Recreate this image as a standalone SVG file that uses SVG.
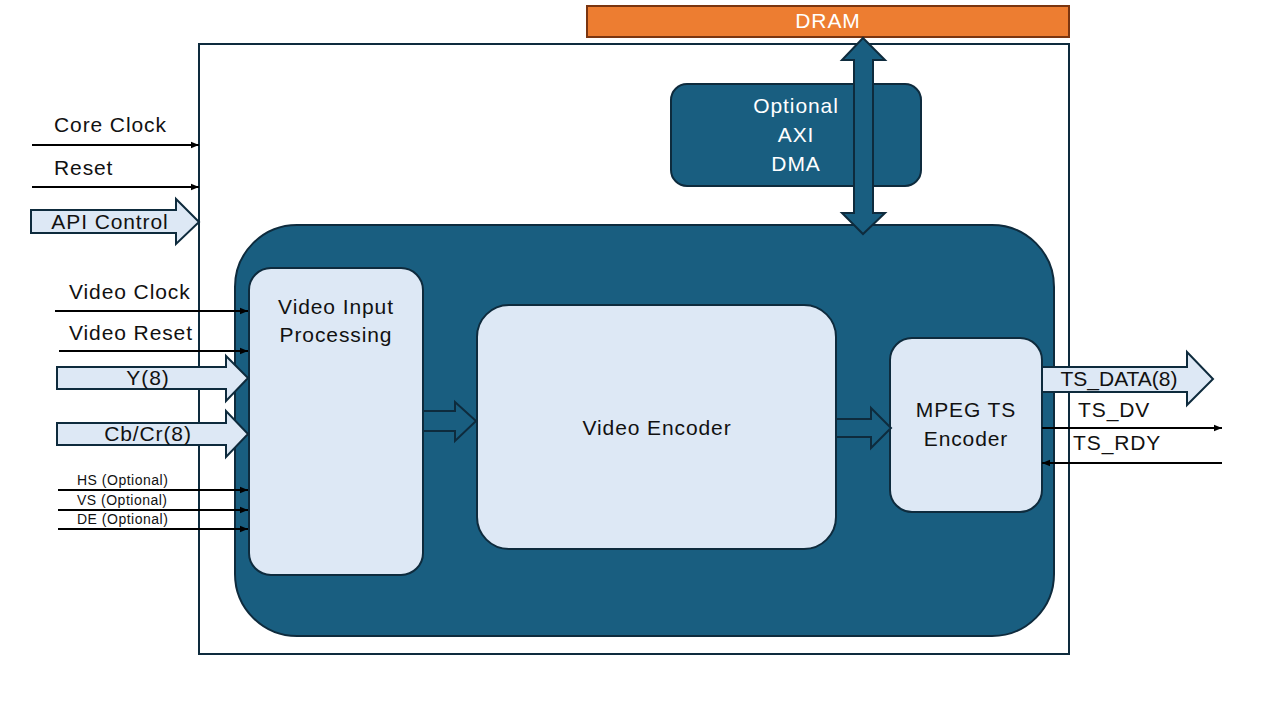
<svg xmlns="http://www.w3.org/2000/svg" width="1280" height="720" viewBox="0 0 1280 720">
<defs>
<marker id="ah" viewBox="0 0 10 10" refX="10" refY="5" markerWidth="8" markerHeight="8" markerUnits="userSpaceOnUse" orient="auto">
<path d="M0,1 L10,5 L0,9 Z" fill="#000"/>
</marker>
</defs>
<style>
text{font-family:"Liberation Sans",Arial,sans-serif;}
.t{font-size:21px;fill:#111;letter-spacing:0.9px;}
.s{font-size:14px;fill:#111;letter-spacing:0.5px;}
.w{font-size:21px;fill:#fff;letter-spacing:0.9px;}
.line{stroke:#000;stroke-width:2;fill:none;}
.blk{fill:#195e80;stroke:#0e2b3d;stroke-width:2;}
.lt{fill:#dde8f5;stroke:#0e2b3d;stroke-width:2;}
.arr{fill:#dde8f5;stroke:#0e2b3d;stroke-width:2;}
.darr{fill:#195e80;stroke:#0e2b3d;stroke-width:2;}
</style>
<rect width="1280" height="720" fill="#fff"/>
<g id="outer"><rect x="199" y="44" width="870" height="610" fill="#fff" stroke="#0e2b3d" stroke-width="2"/></g>
<g id="dram"><rect x="587" y="6" width="482" height="31" fill="#ed7d31" stroke="#7a3510" stroke-width="2"/><text class="w" x="828" y="28" text-anchor="middle">DRAM</text></g>
<g id="dma"><rect class="blk" x="671" y="84" width="250" height="102" rx="16"/>
<text class="w" x="796" y="113" text-anchor="middle">Optional</text>
<text class="w" x="796" y="142" text-anchor="middle">AXI</text>
<text class="w" x="796" y="171" text-anchor="middle">DMA</text></g>
<g id="core"><rect class="blk" x="235" y="225" width="819" height="411" rx="62"/></g>
<g id="vip"><rect class="lt" x="249" y="268" width="174" height="307" rx="22"/>
<text class="t" x="336" y="314" text-anchor="middle">Video Input</text>
<text class="t" x="336" y="342" text-anchor="middle">Processing</text></g>
<g id="venc"><rect class="lt" x="477" y="305" width="359" height="244" rx="32"/>
<text class="t" x="657" y="435" text-anchor="middle">Video Encoder</text></g>
<g id="mpeg"><rect class="lt" x="890" y="338" width="152" height="174" rx="22"/>
<text class="t" x="966" y="417" text-anchor="middle">MPEG TS</text>
<text class="t" x="966" y="446" text-anchor="middle">Encoder</text></g>
<g id="connectors">
<path class="darr" d="M863,38 L885,60 L873,60 L873,213 L885,213 L863,234 L842,213 L854,213 L854,60 L842,60 Z"/>
<path class="darr" d="M423,411 L455,411 L455,402 L476,421 L455,441 L455,431 L423,431 Z"/>
<path class="darr" d="M836,419 L871,419 L871,408 L891,428 L871,448 L871,437 L836,437 Z"/>
<line class="line" x1="32" y1="145" x2="199" y2="145" marker-end="url(#ah)"/>
<line class="line" x1="32" y1="187" x2="199" y2="187" marker-end="url(#ah)"/>
<path class="arr" d="M31,210 L176,210 L176,199 L199,222 L176,244 L176,233 L31,233 Z"/>
<line class="line" x1="55" y1="311" x2="248" y2="311" marker-end="url(#ah)"/>
<line class="line" x1="59" y1="351" x2="248" y2="351" marker-end="url(#ah)"/>
<path class="arr" d="M57,367 L226,367 L226,356 L248,378 L226,401 L226,389 L57,389 Z"/>
<path class="arr" d="M57,423 L226,423 L226,411 L248,434 L226,457 L226,445 L57,445 Z"/>
<line class="line" x1="58" y1="490" x2="248" y2="490" marker-end="url(#ah)"/>
<line class="line" x1="58" y1="510" x2="248" y2="510" marker-end="url(#ah)"/>
<line class="line" x1="58" y1="529" x2="248" y2="529" marker-end="url(#ah)"/>
<path class="arr" d="M1042,367 L1187,367 L1187,352 L1213,379 L1187,405 L1187,392 L1042,392 Z"/>
<line class="line" x1="1042" y1="428" x2="1222" y2="428" marker-end="url(#ah)"/>
<line class="line" x1="1222" y1="463" x2="1042" y2="463" marker-end="url(#ah)"/>
</g>
<g id="labels">
<text class="t" x="54" y="132">Core Clock</text>
<text class="t" x="54" y="175">Reset</text>
<text class="t" x="110" y="229" text-anchor="middle">API Control</text>
<text class="t" x="69" y="299">Video Clock</text>
<text class="t" x="69" y="340">Video Reset</text>
<text class="t" x="148" y="385" text-anchor="middle">Y(8)</text>
<text class="t" x="148" y="441" text-anchor="middle">Cb/Cr(8)</text>
<text class="s" x="77" y="485">HS (Optional)</text>
<text class="s" x="77" y="505">VS (Optional)</text>
<text class="s" x="77" y="524">DE (Optional)</text>
<text class="t" x="1119" y="386" text-anchor="middle" style="letter-spacing:0">TS_DATA(8)</text>
<text class="t" x="1078" y="417">TS_DV</text>
<text class="t" x="1073" y="450">TS_RDY</text>
</g>
</svg>
